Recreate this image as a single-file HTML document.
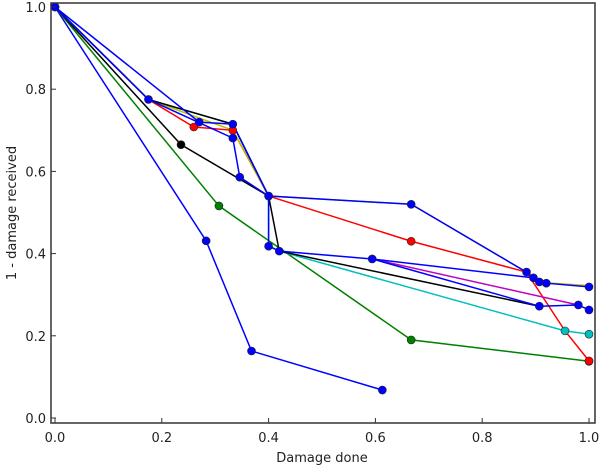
<!DOCTYPE html>
<html><head><meta charset="utf-8"><style>
body{margin:0;background:#fff;width:600px;height:468px;overflow:hidden}
text{font-family:"DejaVu Sans","Liberation Sans",sans-serif;font-size:13px;fill:#222}
</style></head><body>
<svg id="chart" width="600" height="468">
<g id="marks"></g>
<g id="axes"></g>
</svg>
<script>
const xTicks=[0.0,0.2,0.4,0.6,0.8,1.0];
const yTicks=[0.0,0.2,0.4,0.6,0.8,1.0];
const seriesColors=["#0000ff","#008000","#000000","#ff0000","#00bfbf","#bfbf00","#bf00bf","#000000","#0000ff","#0000ff","#0000ff"];
const seriesX=[
 [0,0.283,0.368,0.613],
 [0,0.307,0.667,1.0],
 [0,0.236,0.40],
 [0,0.175,0.26,0.333,0.40,0.667,0.883,0.955,1.0],
 [0,0.175,0.333,0.40,0.40,0.42,0.955,1.0],
 [0,0.175,0.333,0.40,0.667,0.883,0.907,1.0],
 [0.594,0.98],
 [0,0.175,0.333,0.40,0.42,0.907],
 [0,0.27,0.333,0.40,0.667,0.883,0.896,0.907,0.92,1.0],
 [0,0.175,0.333,0.346,0.40,0.40,0.42,0.594,0.907,0.98,1.0],
 [0.594,0.896]
];
const seriesY=[
 [1,0.431,0.163,0.068],
 [1,0.516,0.19,0.138],
 [1,0.665,0.54],
 [1,0.775,0.708,0.70,0.54,0.43,0.355,0.212,0.139],
 [1,0.775,0.715,0.54,0.42,0.406,0.212,0.204],
 [1,0.775,0.70,0.54,0.52,0.355,0.33,0.322],
 [0.387,0.275],
 [1,0.775,0.715,0.54,0.406,0.272],
 [1,0.72,0.715,0.54,0.52,0.355,0.341,0.331,0.328,0.319],
 [1,0.775,0.681,0.586,0.54,0.418,0.406,0.387,0.272,0.275,0.263],
 [0.387,0.341]
];
const seriesMarkers=[
 [1,1,1,1],[0,1,1,1],[0,1,0],[0,0,1,1,0,1,0,0,1],[0,0,0,0,0,0,1,1],[0,0,0,0,0,0,0,0],[0,0],[0,0,0,0,0,0],
 [1,1,1,1,1,1,1,1,1,1],[1,1,1,1,1,1,1,1,1,1,1],[0,0]
];
const X=v=>55+v*534, Y=v=>418-v*411;
const NS="http://www.w3.org/2000/svg";
const marks=document.getElementById('marks'), axes=document.getElementById('axes');
seriesX.forEach((xs,i)=>{
  const pl=document.createElementNS(NS,'polyline');
  pl.setAttribute('points',xs.map((x,j)=>X(x)+','+Y(seriesY[i][j])).join(' '));
  pl.setAttribute('fill','none');pl.setAttribute('stroke',seriesColors[i]);pl.setAttribute('stroke-width','1.5');
  
  
  marks.appendChild(pl);
});
seriesX.forEach((xs,i)=>{
  xs.forEach((x,j)=>{
    if(!seriesMarkers[i][j])return;
    const c=document.createElementNS(NS,'circle');
    c.setAttribute('cx',X(x));c.setAttribute('cy',Y(seriesY[i][j]));c.setAttribute('r','4');
    c.setAttribute('fill',seriesColors[i]);c.setAttribute('stroke','#222');c.setAttribute('stroke-width','0.6');
    
    
    marks.appendChild(c);
  });
});
const fr=document.createElementNS(NS,'rect');
fr.setAttribute('x',51);fr.setAttribute('y',3);fr.setAttribute('width',544);fr.setAttribute('height',420);
fr.setAttribute('fill','none');fr.setAttribute('stroke','#333');fr.setAttribute('stroke-width','1.5');


axes.appendChild(fr);
xTicks.forEach(t=>{
  const l=document.createElementNS(NS,'line');
  l.setAttribute('x1',X(t));l.setAttribute('x2',X(t));l.setAttribute('y1',423);l.setAttribute('y2',418);l.setAttribute('stroke','#333');
  
  
  axes.appendChild(l);
  const tx=document.createElementNS(NS,'text');
  tx.setAttribute('x',X(t));tx.setAttribute('y',442);tx.setAttribute('text-anchor','middle');tx.textContent=t.toFixed(1);
  
  
  axes.appendChild(tx);
});
yTicks.forEach(t=>{
  const l=document.createElementNS(NS,'line');
  l.setAttribute('x1',51);l.setAttribute('x2',56);l.setAttribute('y1',Y(t));l.setAttribute('y2',Y(t));l.setAttribute('stroke','#333');
  
  
  axes.appendChild(l);
  const tx=document.createElementNS(NS,'text');
  tx.setAttribute('x',46);tx.setAttribute('y',Y(t)+5);tx.setAttribute('text-anchor','end');tx.textContent=t.toFixed(1);
  
  
  axes.appendChild(tx);
});
</script>
<svg style="position:absolute;left:0;top:0" width="600" height="468">
<text x="322" y="462" text-anchor="middle">Damage done</text>
<text x="0" y="0" text-anchor="middle" transform="translate(16,213) rotate(-90)">1 - damage received</text>
</svg>
</body></html>
